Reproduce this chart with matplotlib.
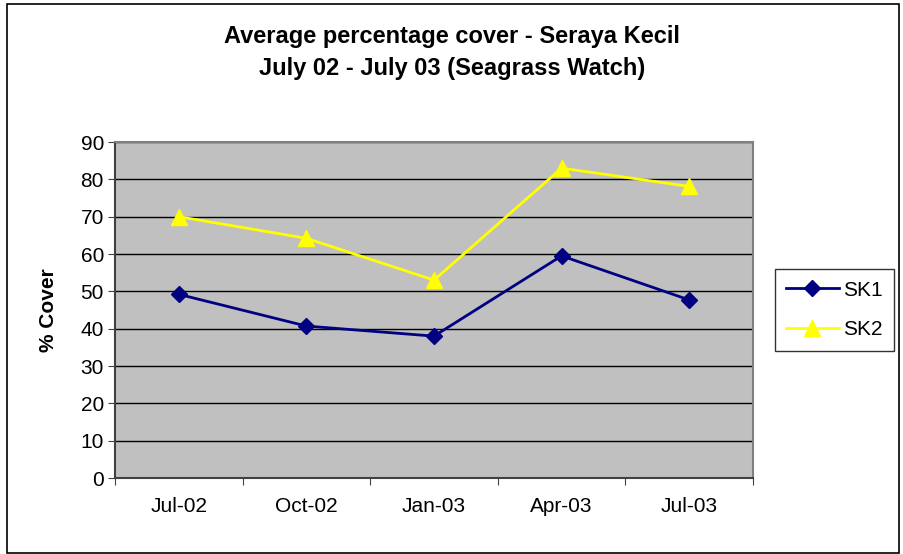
import matplotlib
matplotlib.use('Agg')
import matplotlib.pyplot as plt
from matplotlib.patches import Rectangle

plt.rcParams['font.family'] = ['Liberation Sans', 'DejaVu Sans']

months = ['Jul-02', 'Oct-02', 'Jan-03', 'Apr-03', 'Jul-03']
sk1 = [49.2, 40.7, 38.0, 59.5, 47.7]
sk2 = [70.0, 64.2, 53.0, 83.0, 78.1]

fig = plt.figure(figsize=(9.04, 5.54), dpi=100)
ax = fig.add_axes([115 / 904, 76 / 554, 638 / 904, 336 / 554])
ax.set_facecolor('#c0c0c0')

x = range(len(months))
ax.plot(x, sk1, color='#000080', marker='D', markersize=8, linewidth=2, label='SK1')
ax.plot(x, sk2, color='#ffff00', marker='^', markersize=11, linewidth=2, label='SK2')

ax.set_xlim(-0.5, len(months) - 0.5)
ax.set_ylim(0, 90)
ax.set_yticks(range(0, 91, 10))
ax.set_xticks([i - 0.5 for i in range(len(months) + 1)], minor=False)
ax.set_xticklabels([])
ax.set_xticks(list(x), minor=True)
ax.set_xticklabels(months, minor=True, fontsize=15)
ax.tick_params(axis='x', which='minor', length=0, pad=14)
ax.tick_params(axis='x', which='major', length=5, direction='out', color='#404040')
ax.tick_params(axis='y', length=5, direction='out', labelsize=15, color='#404040', pad=3)
ax.yaxis.grid(True, color='black', linewidth=1)
ax.set_axisbelow(True)

for s in ['top', 'right']:
    ax.spines[s].set_color('#808080')
    ax.spines[s].set_linewidth(1.5)
for s in ['left', 'bottom']:
    ax.spines[s].set_color('#404040')
    ax.spines[s].set_linewidth(1.5)

ax.set_ylabel('% Cover', fontsize=15, fontweight='bold', labelpad=16)

fig.text(0.5, 1 - 37 / 554, 'Average percentage cover - Seraya Kecil',
         ha='center', va='center', fontsize=17, fontweight='bold')
fig.text(0.5, 1 - 68 / 554, 'July 02 - July 03 (Seagrass Watch)',
         ha='center', va='center', fontsize=17, fontweight='bold')

leg = ax.legend(loc='center left', bbox_to_anchor=(775 / 904, 1 - 310 / 554),
                bbox_transform=fig.transFigure, fontsize=15, frameon=True,
                fancybox=False, edgecolor='black', handlelength=2.5,
                handletextpad=0.2, borderpad=0.55, borderaxespad=0,
                labelspacing=1.0)
leg.get_frame().set_linewidth(1)

fig.patches.append(Rectangle((7 / 904, 1 / 554), 892 / 904, 549 / 554,
                             transform=fig.transFigure, fill=False,
                             edgecolor='black', linewidth=1.2))

fig.savefig('out.png', dpi=100)
